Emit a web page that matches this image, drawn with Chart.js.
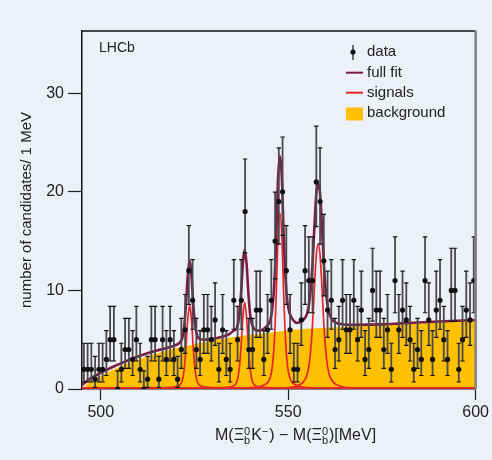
<!DOCTYPE html>
<html>
<head>
<meta charset="utf-8">
<script src="https://cdn.jsdelivr.net/npm/chart.js@4/dist/chart.umd.min.js"></script>
<style>
  html, body { margin: 0; padding: 0; background: #eef0f8; }
  canvas { display: block; }
</style>
</head>
<body>
<canvas id="chart" width="492" height="460"></canvas>
<script>
// candidates per 1 MeV bin, first bin centred at 495.5 MeV
const firstBin = 495.5;
const counts = [
  2, 2, 2, 1, 2, 2, 3, 5, 5, 0,
  2, 4, 4, 3, 5, 2, 0, 1, 5, 5,
  1, 5, 3, 5, 3, 1, 4, 6, 12, 9,
  4, 3, 6, 6, 5, 7, 2, 6, 3, 2,
  9, 5, 9, 18, 4, 4, 8, 8, 3, 6,
  9, 15, 19, 20, 12, 6, 2, 2, 7, 12,
  11, 11, 21, 19, 13, 8, 9, 4, 5, 9,
  6, 6, 9, 5, 8, 3, 4, 10, 8, 8,
  4, 6, 2, 11, 6, 8, 7, 5, 2, 4,
  3, 11, 7, 3, 8, 9, 5, 3, 10, 10,
  2, 5, 8, 7, 11
];

// poisson 68% interval edges, indexed by count
const errLo = [0, 0.173, 0.708, 1.367, 2.086, 2.840, 3.620, 4.419, 5.232, 6.057, 6.891,
  7.734, 8.585, 9.441, 10.30, 11.17, 12.04, 12.92, 13.80, 14.68, 15.57, 16.46];
const errHi = [1.841, 3.300, 4.638, 5.918, 7.163, 8.382, 9.584, 10.77, 11.95, 13.11, 14.27,
  15.42, 16.56, 17.70, 18.83, 19.96, 21.08, 22.20, 23.32, 24.44, 25.55, 26.66];

const background = [
  [495, 0], [497, 0.7], [500, 1.35], [503, 1.9], [506, 2.4], [510, 3.0], [515, 3.6],
  [520, 4.15], [525, 4.55], [530, 4.95], [535, 5.25], [540, 5.5], [545, 5.7], [550, 5.95],
  [555, 6.1], [560, 6.2], [570, 6.35], [580, 6.55], [590, 6.75], [600, 6.9]
];

const fullFit = [
  [495, 0.4], [497, 1.0], [500, 1.65], [503, 2.2], [506, 2.7], [510, 3.3], [515, 3.9],
  [518, 4.2], [520, 4.45], [521.2, 4.75], [521.7, 5.1], [522.2, 6.1], [522.7, 8.4],
  [523.2, 11.4], [523.7, 12.95], [524.2, 11.5], [524.7, 8.5], [525.2, 6.4], [525.7, 5.45],
  [526.2, 5.1], [527.7, 5.0], [530, 5.1], [532.4, 5.3], [534.4, 5.6], [535.4, 5.9],
  [536.4, 6.3], [536.9, 7.3], [537.4, 9.5], [537.9, 12.6], [538.4, 14.1], [538.9, 12.7],
  [539.4, 9.6], [539.9, 7.4], [540.4, 6.5], [540.9, 6.1], [541.4, 5.95], [542.4, 5.9],
  [543.8, 6.2], [544.8, 6.6], [545.3, 7.1], [545.8, 8.3], [546.3, 10.6], [546.8, 15.4],
  [547.3, 21.4], [547.8, 23.6], [548.3, 21.5], [548.8, 15.6], [549.3, 11.1], [549.8, 8.8],
  [550.3, 7.8], [550.8, 7.3], [551.8, 6.8], [552.4, 6.7], [553, 6.75], [554, 7.0],
  [555, 7.6], [555.5, 8.5], [556, 10.1], [556.5, 12.8], [557, 16.5], [557.5, 19.8],
  [558, 20.8], [558.5, 19.8], [559, 16.5], [559.5, 12.8], [560, 10.1], [560.5, 8.5],
  [561, 7.6], [562, 6.9], [564, 6.6], [568, 6.5], [575, 6.55], [580, 6.65], [590, 6.85],
  [600, 7.0]
];

const signal1 = [
  [495, 0.12], [513.7, 0.12], [517.7, 0.14], [519.7, 0.2], [520.7, 0.3], [521.2, 0.45],
  [521.7, 0.8], [522.2, 1.8], [522.7, 4.0], [523.2, 7.0], [523.7, 8.5], [524.2, 7.0],
  [524.7, 4.0], [525.2, 1.8], [525.7, 0.8], [526.2, 0.45], [526.7, 0.3], [527.7, 0.2],
  [529.7, 0.14], [533.7, 0.12], [600, 0.12]
];
const signal2 = [
  [495, 0.12], [528.4, 0.12], [532.4, 0.14], [534.4, 0.2], [535.4, 0.3], [535.9, 0.45],
  [536.4, 0.85], [536.9, 1.9], [537.4, 4.1], [537.9, 7.2], [538.4, 8.8], [538.9, 7.2],
  [539.4, 4.1], [539.9, 1.9], [540.4, 0.85], [540.9, 0.45], [541.4, 0.3], [542.4, 0.2],
  [544.4, 0.14], [548.4, 0.12], [600, 0.12]
];
const signal3 = [
  [495, 0.12], [537.8, 0.12], [541.8, 0.2], [543.8, 0.45], [544.8, 0.8], [545.3, 1.3],
  [545.8, 2.4], [546.3, 4.8], [546.8, 9.5], [547.3, 15.5], [547.8, 17.8], [548.3, 15.5],
  [548.8, 9.5], [549.3, 4.8], [549.8, 2.4], [550.3, 1.3], [550.8, 0.8], [551.8, 0.45],
  [553.8, 0.2], [557.8, 0.12], [600, 0.12]
];
const signal4 = [
  [495, 0.12], [548, 0.12], [552, 0.28], [554, 0.7], [555, 1.4], [555.5, 2.3],
  [556, 3.9], [556.5, 6.6], [557, 10.3], [557.5, 13.6], [558, 14.7], [558.5, 13.6],
  [559, 10.3], [559.5, 6.6], [560, 3.9], [560.5, 2.3], [561, 1.4], [562, 0.7],
  [564, 0.28], [568, 0.12], [600, 0.12]
];

const xTicks = [500, 550, 600];
const yTicks = [0, 10, 20, 30];

const fitColor = '#7b1c45';
const sigColor = '#e3262b';
const bkgColor = '#ffc000';
const textColor = '#222';

Chart.defaults.font.family = "'Liberation Sans', Arial, sans-serif";
Chart.defaults.color = textColor;

const toPts = arr => arr.map(([x, y]) => ({ x, y }));

const errorBars = {
  id: 'errorBars',
  beforeDatasetDraw(chart, args) {
    if (args.index !== 0) return;
    const { ctx, chartArea: a, scales: { x, y } } = chart;
    ctx.save();
    ctx.beginPath();
    ctx.rect(a.left, a.top, a.right - a.left, a.bottom - a.top);
    ctx.clip();
    counts.forEach((n, i) => {
      const px = x.getPixelForValue(firstBin + i);
      const lo = y.getPixelForValue(errLo[n]);
      const hi = y.getPixelForValue(errHi[n]);
      ctx.strokeStyle = '#4a4a4a';
      ctx.lineWidth = 1.8;
      ctx.beginPath();
      ctx.moveTo(px, lo);
      ctx.lineTo(px, hi);
      ctx.stroke();
      ctx.strokeStyle = '#111';
      ctx.lineWidth = 1.2;
      ctx.beginPath();
      ctx.moveTo(px - 2.2, hi); ctx.lineTo(px + 2.2, hi);
      ctx.moveTo(px - 2.2, lo); ctx.lineTo(px + 2.2, lo);
      ctx.stroke();
    });
    ctx.restore();
  }
};

function drawRich(ctx, parts, x, base) {
  parts.forEach(p => {
    if (p.stack) {
      ctx.font = '11px ' + Chart.defaults.font.family;
      ctx.fillText(p.sup, x, base - 5.5);
      ctx.fillText(p.sub, x, base + 3.5);
      x += Math.max(ctx.measureText(p.sup).width, ctx.measureText(p.sub).width) + 1;
    } else if (p.sup) {
      ctx.font = '11px ' + Chart.defaults.font.family;
      ctx.fillText(p.sup, x, base - 5.5);
      x += ctx.measureText(p.sup).width + 1;
    } else {
      ctx.font = '16px ' + Chart.defaults.font.family;
      ctx.fillText(p.t, x, base);
      x += ctx.measureText(p.t).width;
    }
  });
}

const decorations = {
  id: 'decorations',
  afterDraw(chart) {
    const { ctx, chartArea: a } = chart;
    const fam = Chart.defaults.font.family;
    ctx.save();

    // top and right frame
    ctx.strokeStyle = '#111';
    ctx.lineWidth = 1.5;
    ctx.beginPath();
    ctx.moveTo(a.left, a.top);
    ctx.lineTo(a.right, a.top);
    ctx.stroke();
    ctx.strokeStyle = '#808080';
    ctx.lineWidth = 2.5;
    ctx.beginPath();
    ctx.moveTo(a.right, a.top);
    ctx.lineTo(a.right, a.bottom);
    ctx.stroke();

    ctx.fillStyle = textColor;
    ctx.textBaseline = 'middle';
    ctx.font = '14px ' + fam;
    ctx.fillText('LHCb', 99, 48);

    // legend
    const lx = 346, tx = 367;
    ctx.font = '15px ' + fam;
    ctx.fillText('data', tx, 51.7);
    ctx.fillText('full fit', tx, 72.7);
    ctx.fillText('signals', tx, 92.7);
    ctx.fillText('background', tx, 113.3);
    ctx.strokeStyle = '#333';
    ctx.lineWidth = 1.4;
    ctx.beginPath();
    ctx.moveTo(353, 45); ctx.lineTo(353, 60);
    ctx.stroke();
    ctx.fillStyle = '#111';
    ctx.beginPath();
    ctx.arc(353, 52, 2.6, 0, Math.PI * 2);
    ctx.fill();
    ctx.lineWidth = 2;
    ctx.strokeStyle = fitColor;
    ctx.beginPath(); ctx.moveTo(lx, 72.7); ctx.lineTo(lx + 17, 72.7); ctx.stroke();
    ctx.strokeStyle = sigColor;
    ctx.beginPath(); ctx.moveTo(lx, 92.7); ctx.lineTo(lx + 17, 92.7); ctx.stroke();
    ctx.fillStyle = bkgColor;
    ctx.fillRect(lx, 107.5, 17, 13);

    // axis titles
    ctx.fillStyle = textColor;
    ctx.textBaseline = 'alphabetic';
    ctx.textAlign = 'left';
    drawRich(ctx, [
      { t: 'M(Ξ' }, { stack: true, sup: '0', sub: 'b' }, { t: 'K' }, { sup: '−' },
      { t: ') − M(Ξ' }, { stack: true, sup: '0', sub: 'b' }, { t: ')[MeV]' }
    ], 215, 440);

    ctx.translate(27, (a.top + a.bottom) / 2);
    ctx.rotate(-Math.PI / 2);
    ctx.textAlign = 'center';
    ctx.textBaseline = 'middle';
    ctx.font = '15px ' + fam;
    ctx.fillText('number of candidates/ 1 MeV', 0, 0);
    ctx.restore();
  }
};

const lineDs = (label, pts, color, width, order) => ({
  label, data: toPts(pts), borderColor: color, borderWidth: width, pointRadius: 0,
  cubicInterpolationMode: 'monotone', fill: false, order
});

new Chart(document.getElementById('chart'), {
  type: 'line',
  data: {
    datasets: [
      { label: 'data', data: counts.map((n, i) => ({ x: firstBin + i, y: n })), showLine: false,
        pointRadius: 2.6, pointBackgroundColor: '#111', pointBorderWidth: 0, order: 0 },
      lineDs('full fit', fullFit, fitColor, 2.6, 1),
      lineDs('signals', signal1, sigColor, 1.7, 2),
      lineDs('signals', signal2, sigColor, 1.7, 2),
      lineDs('signals', signal3, sigColor, 1.7, 2),
      lineDs('signals', signal4, sigColor, 1.7, 2),
      { label: 'background', data: toPts(background), borderWidth: 0, backgroundColor: bkgColor,
        fill: 'origin', pointRadius: 0, cubicInterpolationMode: 'monotone', order: 3 }
    ]
  },
  options: {
    responsive: false,
    animation: false,
    events: [],
    layout: { padding: { left: 0, right: 14, top: 31, bottom: 0 } },
    plugins: { legend: { display: false }, tooltip: { enabled: false } },
    scales: {
      x: {
        type: 'linear', min: 495, max: 600,
        afterBuildTicks: s => { s.ticks = xTicks.map(v => ({ value: v })); },
        afterFit: s => { s.height = 71; },
        grid: { drawOnChartArea: false, tickLength: 11, tickColor: '#222', tickWidth: 1.2 },
        border: { color: '#111', width: 1.5 },
        ticks: { font: { size: 16 }, padding: 3, maxRotation: 0, color: textColor }
      },
      y: {
        min: 0, max: 36.3,
        afterBuildTicks: s => { s.ticks = yTicks.map(v => ({ value: v })); },
        afterFit: s => { s.width = 82; },
        grid: { drawOnChartArea: false, tickLength: 14, tickColor: '#222', tickWidth: 1.2 },
        border: { color: '#111', width: 1.5 },
        ticks: { font: { size: 16 }, padding: 4, color: textColor }
      }
    }
  },
  plugins: [errorBars, decorations]
});
</script>
</body>
</html>
